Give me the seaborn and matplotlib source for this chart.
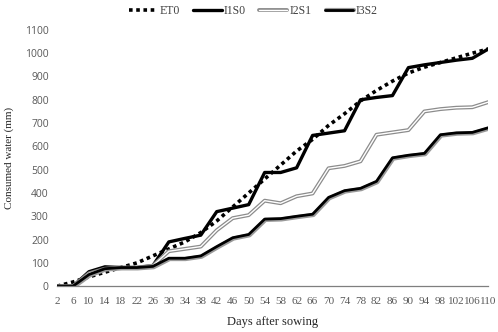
import numpy as np
import pandas as pd
import seaborn as sns
import matplotlib.pyplot as plt
import matplotlib.patheffects as pe

days = list(range(2, 111, 4))
et0 = [0, 18, 40, 60, 80, 100, 130, 160, 190, 230, 280, 340, 400, 460, 520, 580,
       630, 690, 740, 795, 840, 880, 915, 940, 960, 980, 1000, 1018]
i1s0 = [0, 0, 62, 83, 80, 80, 88, 190, 205, 219, 320, 335, 350, 488, 488, 508,
        647, 657, 667, 800, 810, 818, 938, 950, 960, 970, 978, 1018]
i2s1 = [0, 0, 55, 75, 80, 80, 88, 150, 160, 170, 240, 292, 305, 367, 356, 386,
        398, 506, 516, 536, 650, 660, 670, 750, 760, 766, 768, 790]
i3s2 = [0, 0, 50, 75, 80, 80, 85, 120, 120, 130, 170, 208, 222, 288, 290, 300,
        309, 381, 410, 420, 450, 551, 562, 570, 650, 658, 660, 680]

df = pd.DataFrame({'day': days, 'ET0': et0, 'I1S0': i1s0, 'I2S1': i2s1, 'I3S2': i3s2})
long_df = df.melt(id_vars='day', var_name='series', value_name='water')

sns.set_style('white')
serif = 'Liberation Serif'

fig = plt.figure(figsize=(4.98, 3.32), dpi=100)
ax = fig.add_axes([0.1145, 0.138, 0.866, 0.772])

sns.lineplot(data=long_df, x='day', y='water', hue='series',
             palette={'ET0': 'black', 'I1S0': 'black', 'I2S1': '#8c8c8c', 'I3S2': 'black'},
             ax=ax, legend=False)

lines = ax.get_lines()
# ET0 dotted
lines[0].set_linestyle((0, (1, 1)))
lines[0].set_linewidth(2.6)
lines[0].set_dash_capstyle('butt')
# I1S0 thick black
lines[1].set_linewidth(2.4)
# I2S1 double line (grey outline, white inside)
lines[2].set_linewidth(2.6)
lines[2].set_path_effects([pe.Stroke(linewidth=2.8, foreground='#8c8c8c'),
                           pe.Stroke(linewidth=1.0, foreground='white')])
# I3S2 black with grey shadow
lines[3].set_linewidth(2.0)
lines[3].set_path_effects([pe.Stroke(linewidth=3.0, foreground='#9a9a9a', offset=(0.6, -0.6)),
                           pe.Normal()])

ax.set_xlim(2, 110)
ax.set_ylim(0, 1100)
ax.set_xticks(days)
ax.set_xticklabels([str(d) for d in days], fontfamily=serif, fontsize=8, color='#595959')
ax.set_yticks(range(0, 1101, 100))
ax.set_yticklabels([str(v) for v in range(0, 1101, 100)], fontfamily='Open Sans',
                   fontsize=7.5, color='#595959')
ax.tick_params(axis='x', length=4, width=0.8, color='#7f7f7f', direction='out', pad=4)
ax.tick_params(axis='y', length=0, pad=6)

for s in ['top', 'right', 'left']:
    ax.spines[s].set_visible(False)
ax.spines['bottom'].set_color('#7f7f7f')
ax.spines['bottom'].set_linewidth(0.9)

ax.set_xlabel('Days after sowing', fontfamily=serif, fontsize=9, labelpad=7)
ax.set_ylabel('Consumed water (mm)', fontfamily=serif, fontsize=8, labelpad=8)

ax.legend(handles=lines, labels=['ET0', 'I1S0', 'I2S1', 'I3S2'], loc='center',
          bbox_to_anchor=(0.455, 1.075), ncol=4, frameon=False, handlelength=2.4,
          handletextpad=0.2, columnspacing=1.1, prop={'family': serif, 'size': 8.5},
          labelcolor='#404040')

fig.savefig('out.png', dpi=100)
